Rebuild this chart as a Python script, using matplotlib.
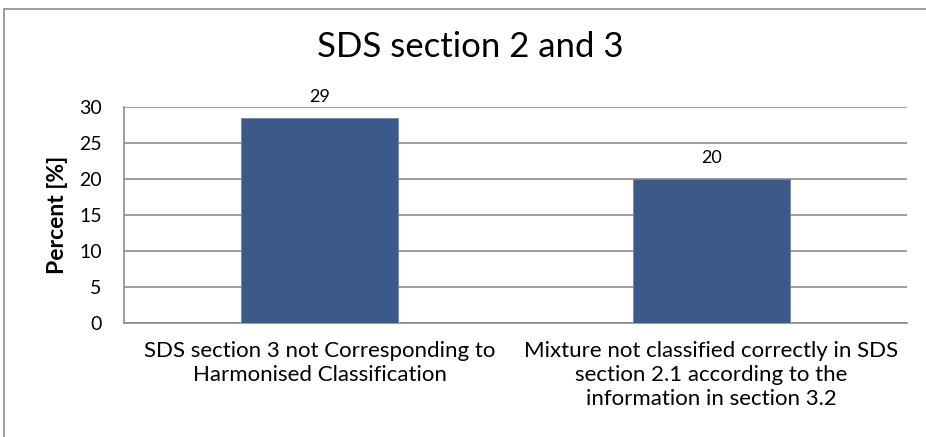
import numpy as np
import matplotlib.pyplot as plt
from matplotlib.patches import Rectangle

categories = [
    "SDS section 3 not Corresponding to\nHarmonised Classification",
    "Mixture not classified correctly in SDS\nsection 2.1 according to the\ninformation in section 3.2",
]
values = [28.5, 20]
value_labels = ["29", "20"]

plt.rcParams['font.family'] = ['Lato', 'DejaVu Sans']

fig = plt.figure(figsize=(9.26, 4.37), dpi=100)
ax = fig.add_axes([124 / 926, 1 - 323 / 437, 783 / 926, 215.5 / 437])

x = np.arange(len(categories))
bars = ax.bar(x, values, width=0.4, color="#3B5A8A", edgecolor="#6f88b0",
              linewidth=0.6, zorder=3)
for b, lab in zip(bars, value_labels):
    ax.text(b.get_x() + b.get_width() / 2, b.get_height() + 3.0, lab,
            ha="center", va="center", fontsize=13)

ax.set_xlim(-0.5, 1.5)
ax.set_ylim(0, 30)
ax.set_yticks(range(0, 31, 5))
ax.set_xticks(x)
ax.set_xticklabels(categories, fontsize=16, linespacing=1.25)
ax.tick_params(axis="y", labelsize=14, length=0, pad=16)
ax.tick_params(axis="x", length=0, pad=13)
ax.grid(axis="y", color="#8c8c8c", linewidth=1.2, zorder=0)
for s in ["top", "right"]:
    ax.spines[s].set_visible(False)
for s in ["left", "bottom"]:
    ax.spines[s].set_color("#8c8c8c")
    ax.spines[s].set_linewidth(1.2)
ax.set_ylabel("Percent [%]", fontsize=16.5, fontweight="bold", labelpad=8)
fig.text(470 / 926, 1 - 47 / 437, "SDS section 2 and 3", ha="center",
         va="center", fontsize=25)

# outer chart frame
fig.patches.append(Rectangle((4 / 926, -0.01), 1.0, 1 - 9 / 437 + 0.01,
                             transform=fig.transFigure, fill=False,
                             edgecolor="#8c8c8c", linewidth=1.2))

plt.savefig("out.png", dpi=100)
